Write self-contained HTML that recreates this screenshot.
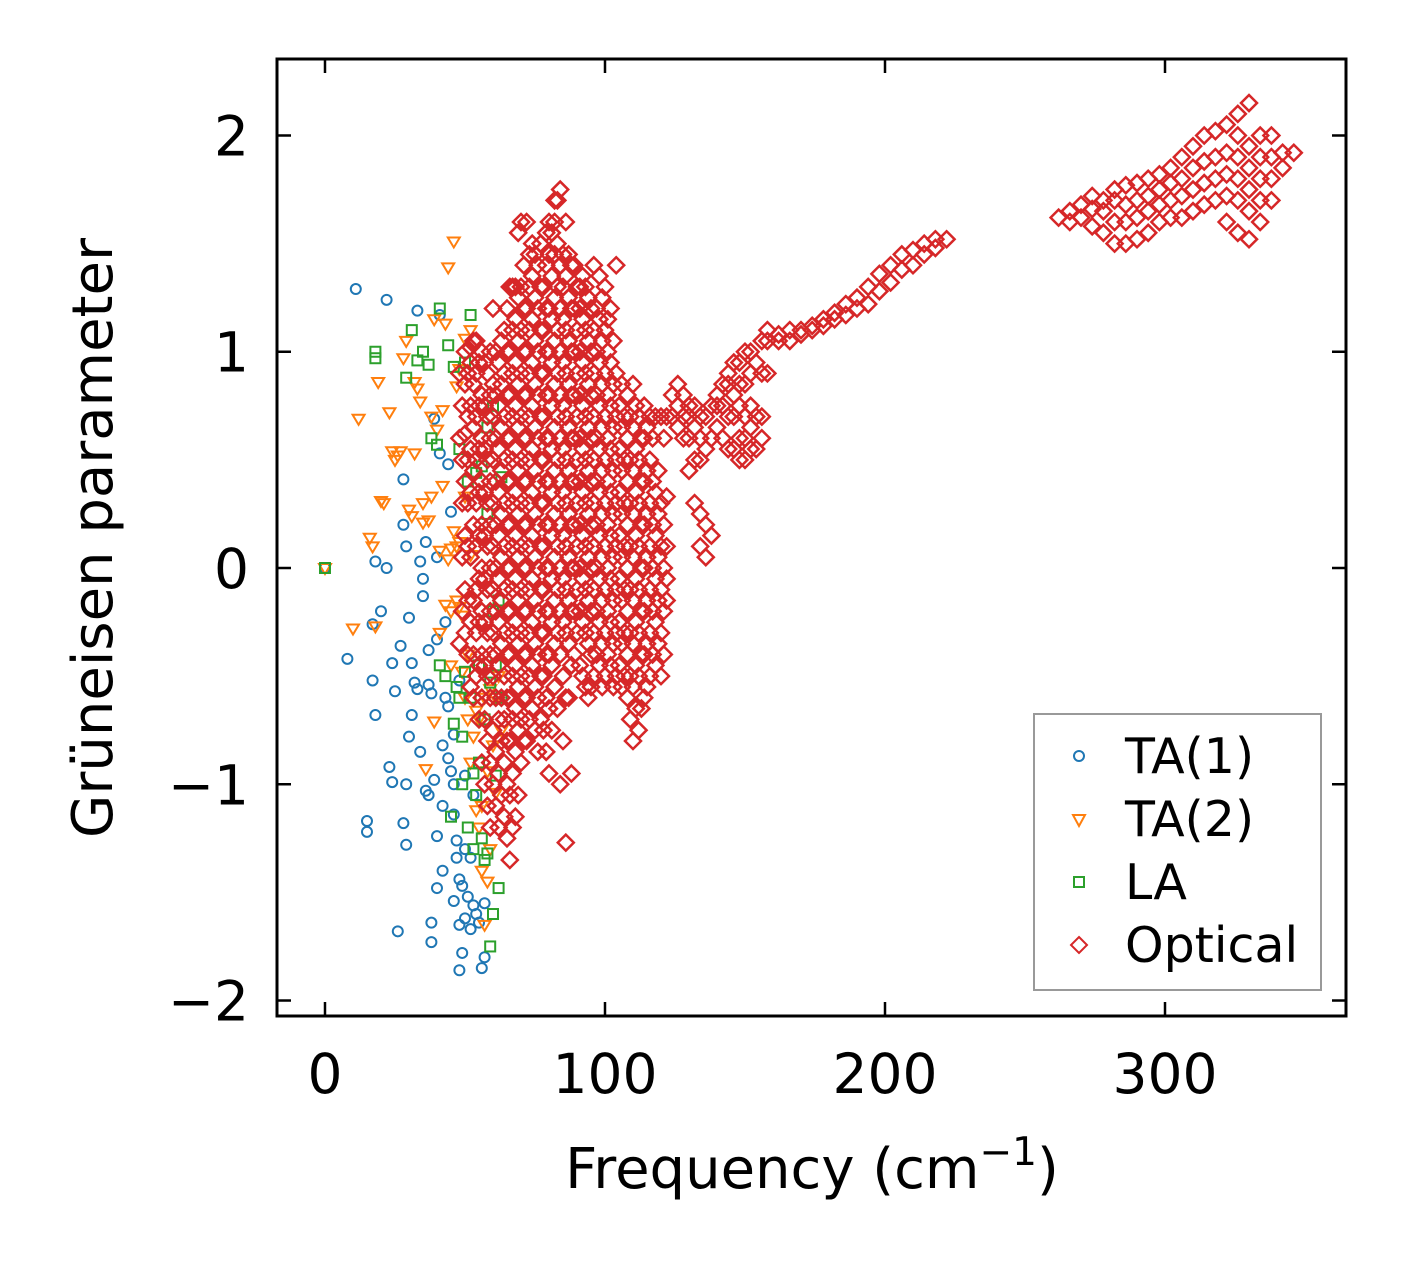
<!DOCTYPE html>
<html><head><meta charset="utf-8"><style>
html,body{margin:0;padding:0;background:#fff;}
svg{display:block;font-family:"DejaVu Sans","Liberation Sans",sans-serif;}
</style></head><body>
<svg id="chart" width="1406" height="1264" viewBox="0 0 1406 1264" xmlns="http://www.w3.org/2000/svg">
<rect width="1406" height="1264" fill="#fff"/>
<g id="marks"></g>
<g id="axes"></g>
<text x="812" y="1188" font-size="56" text-anchor="middle">Frequency (cm<tspan font-size="39" dy="-23">−1</tspan><tspan dy="23">)</tspan></text>
<text transform="translate(112,538) rotate(-90)" font-size="56" text-anchor="middle">Grüneisen parameter</text>
<g>
<rect x="1034" y="714" width="287" height="276" fill="#fff" stroke="#999" stroke-width="2"/>
<circle cx="1079" cy="756" r="5" fill="none" stroke="#1f77b4" stroke-width="2"/>
<text x="1125" y="773" font-size="49">TA(1)</text>
<polygon points="1073,815 1085,815 1079,826" fill="none" stroke="#ff7f0e" stroke-width="2"/>
<text x="1125" y="836" font-size="49">TA(2)</text>
<rect x="1074" y="877" width="10" height="10" fill="none" stroke="#2ca02c" stroke-width="2"/>
<text x="1125" y="899" font-size="49">LA</text>
<polygon points="1079,937 1087,945 1079,953 1071,945" fill="none" stroke="#d62728" stroke-width="2"/>
<text x="1125" y="962" font-size="49">Optical</text>
</g>
</svg>
<script>
const xTicks=[0,100,200,300];
const yTicks=[-2,-1,0,1,2];
const yTickLabels=["−2","−1","0","1","2"];
const ta1=[[0,0],[8,-0.42],[11,1.29],[15,-1.17],[15,-1.22],[17,-0.26],[17,-0.52],[18,0.03],[18,-0.68],[20,-0.2],[22,1.24],[22,0],[23,-0.92],[24,-0.99],[24,-0.44],[25,-0.57],[26,-1.68],[27,-0.36],[28,0.2],[28,0.41],[28,-1.18],[29,-1.28],[29,0.1],[29,-1.0],[30,-0.23],[30,-0.78],[31,-0.44],[31,-0.68],[32,-0.53],[33,-0.56],[33,1.19],[34,0.03],[34,-0.85],[35,-0.05],[35,-0.13],[36,-1.03],[36,0.12],[37,-0.38],[37,-0.54],[37,-1.05],[38,-1.64],[38,-1.73],[38,-0.58],[39,0.69],[39,-0.98],[40,-1.24],[40,-1.48],[40,0.05],[40,-0.33],[41,0.53],[41,1.17],[42,-1.1],[42,-1.4],[42,-0.82],[43,-0.6],[43,-0.25],[44,-0.64],[44,0.48],[45,0.26],[45,-0.94],[46,-1.14],[46,-0.77],[46,-1.54],[47,-1.26],[47,-1.34],[48,-1.86],[48,-1.65],[48,-1.44],[49,-1.47],[49,-1.78],[50,-1.62],[50,-1.3],[51,-1.52],[52,-1.67],[52,-1.34],[53,-1.56],[54,-1.6],[55,-1.64],[56,-1.85],[57,-1.8],[57,-1.55],[53,-1.05],[50,-0.96],[48,-0.52],[46,-1.0],[44,-0.88]];
const ta2=[[0,0],[10,-0.28],[12,0.69],[16,0.14],[17,0.1],[18,-0.27],[19,0.86],[20,0.31],[21,0.3],[23,0.72],[24,0.54],[25,0.5],[26,0.52],[27,0.54],[28,0.97],[29,1.05],[30,0.27],[31,0.24],[32,0.53],[32,0.86],[33,0.83],[34,0.77],[35,0.3],[35,0.21],[36,-0.93],[37,0.22],[38,0.33],[38,0.7],[39,1.15],[39,-0.71],[40,0.64],[41,0.08],[41,-0.3],[42,0.38],[42,0.73],[43,1.13],[43,-0.17],[44,1.39],[44,0.04],[45,0.09],[45,-0.45],[46,1.51],[46,0.17],[47,0.1],[47,-0.15],[47,0.84],[48,0.92],[48,0.12],[49,-0.22],[49,-0.48],[50,-0.6],[50,0.33],[51,-0.7],[51,-0.4],[52,-0.9],[52,0.06],[53,-0.78],[54,-0.66],[54,-1.12],[55,-1.2],[55,-0.7],[56,-1.4],[56,-1.1],[57,-1.65],[57,-0.6],[58,-1.45],[58,-0.94],[59,-1.3],[59,-0.56],[60,-0.82],[61,-0.6],[61,-1.04],[62,-0.5],[63,-0.75],[52,1.1],[50,1.06],[48,-0.18],[45,-0.2]];
const la=[[0,0],[18,1.0],[18,0.97],[29,0.88],[31,1.1],[33,0.96],[35,1.0],[37,0.94],[38,0.6],[40,0.57],[41,1.2],[41,-0.45],[43,-0.5],[44,1.03],[45,-1.15],[46,0.93],[46,-0.72],[47,-0.55],[48,0.55],[48,-0.6],[49,-1.0],[49,-0.78],[50,0.95],[50,-0.48],[51,0.4],[51,-1.2],[52,1.17],[52,-0.6],[53,-0.95],[53,-1.3],[54,0.44],[54,-1.05],[55,-0.45],[55,-0.9],[56,-1.25],[56,0.47],[57,-0.7],[57,-1.35],[58,0.65],[58,-1.32],[59,-1.75],[59,-0.53],[60,-1.6],[60,0.75],[61,-0.45],[61,-0.96],[62,-0.15],[62,-1.48],[63,0.42],[63,-0.6],[60,-0.2],[58,0.25]];
const optX=[48,50,52,54,56,58,60,62,64,66,68,70,72,74,76,78,80,82,84,86,88,90,92,94,96,98,100,102,104,106,108,110,112,114,116,118,120,122,124,126,128,130,132,134,136,138,140,142,144,146,148,150,152,154,156,158,162,166,170,174,178,182,186,190,194,198,202,206,210,214,218,222,262,266,270,274,278,282,286,290,294,298,302,306,310,314,318,322,326,330,334,338,342,346,
49,51,53,55,57,59,61,63,65,67,69,71,73,75,77,79,81,83,85,87,89,91,93,95,97,99,101,103,105,107,109,111,113,115,117,119,121];
const optY=[[-0.35,0.6,0.9],[-0.3,-0.1,0.15,0.4,0.62,0.85,1.0],[-0.55,-0.25,0.05,0.35,0.55,0.75,0.95,1.02],[-0.5,-0.3,-0.1,0.1,0.3,0.5,0.7,0.9,1.05],[-0.9,-0.6,-0.4,-0.2,0,0.2,0.4,0.6,0.8,1.0],[-1.1,-0.8,-0.5,-0.3,-0.1,0.1,0.3,0.5,0.7,0.9],[-1.0,-0.75,-0.5,-0.3,-0.1,0.1,0.3,0.5,0.7,0.85,1.2],[-1.2,-0.95,-0.7,-0.45,-0.25,-0.05,0.15,0.35,0.55,0.75,0.95],[-1.15,-0.9,-0.7,-0.5,-0.3,-0.1,0.1,0.3,0.5,0.7,0.9,1.1],[-1.35,-1.05,-0.8,-0.6,-0.4,-0.2,0,0.2,0.4,0.6,0.8,1.0,1.3],[-1.15,-0.85,-0.65,-0.45,-0.25,-0.05,0.15,0.35,0.55,0.75,0.95,1.15,1.3],[-0.9,-0.7,-0.5,-0.3,-0.1,0.1,0.3,0.5,0.7,0.9,1.1,1.3,1.6],[-0.8,-0.6,-0.4,-0.2,0,0.2,0.4,0.6,0.8,1.0,1.2,1.6],[-0.65,-0.45,-0.25,-0.05,0.15,0.35,0.55,0.75,0.95,1.15,1.35,1.5],[-0.85,-0.6,-0.4,-0.2,0,0.2,0.4,0.6,0.8,1.0,1.2,1.4],[-0.75,-0.5,-0.3,-0.1,0.1,0.3,0.5,0.7,0.9,1.1,1.3],[-0.95,-0.65,-0.4,-0.2,0,0.2,0.4,0.6,0.8,1.0,1.2,1.45,1.6],[-0.55,-0.35,-0.15,0.05,0.25,0.45,0.65,0.85,1.05,1.25,1.45,1.6,1.7],[-1.0,-0.4,-0.2,0,0.2,0.4,0.6,0.8,1.0,1.2,1.4,1.75],[-1.27,-0.6,-0.3,-0.1,0.1,0.3,0.5,0.7,0.9,1.1,1.35,1.6],[-0.95,-0.45,-0.2,0,0.2,0.4,0.6,0.8,1.0,1.2,1.4],[-0.3,-0.1,0.1,0.3,0.5,0.7,0.9,1.1,1.3],[-0.5,-0.25,-0.05,0.15,0.35,0.55,0.75,0.95,1.15,1.35],[-0.6,-0.35,-0.15,0.05,0.25,0.45,0.65,0.85,1.05,1.25],[-0.5,-0.3,-0.1,0.1,0.3,0.5,0.7,0.9,1.1,1.4],[-0.45,-0.25,-0.05,0.15,0.35,0.55,0.75,0.95,1.15,1.35],[-0.5,-0.3,-0.1,0.1,0.3,0.5,0.7,0.9,1.1,1.3],[-0.45,-0.25,-0.05,0.15,0.35,0.55,0.75,0.95,1.2],[-0.5,-0.3,-0.1,0.1,0.3,0.5,0.7,0.9,1.4],[-0.55,-0.35,-0.15,0.05,0.25,0.45,0.65,0.85],[-0.6,-0.4,-0.2,0,0.2,0.4,0.6,0.8],[-0.8,-0.55,-0.35,-0.15,0.05,0.25,0.45,0.65,0.85],[-0.75,-0.5,-0.3,-0.1,0.1,0.3,0.5,0.7],[-0.6,-0.4,-0.2,0,0.2,0.4,0.6,0.75],[-0.5,-0.3,-0.1,0.1,0.3,0.5,0.7],[-0.45,-0.25,-0.05,0.15,0.35,0.7],[-0.5,-0.3,-0.1,0.1,0.3,0.7],[-0.15,-0.05,0.1,0.33,0.7],[0.7,0.8],[0.65,0.75,0.85],[0.6,0.7,0.8],[0.45,0.6,0.7,0.75],[0.3,0.5,0.65,0.75],[0.1,0.25,0.5,0.6,0.7],[0.05,0.2,0.55,0.7],[0.15,0.6,0.75],[0.65,0.75,0.8],[0.6,0.75,0.85],[0.55,0.7,0.85,0.9],[0.55,0.7,0.8,0.95],[0.5,0.6,0.75,0.85,0.95],[0.5,0.6,0.7,0.85,1.0],[0.55,0.65,0.75,0.9,1.0],[0.55,0.7,0.95],[0.6,0.7,0.9,1.05],[0.9,1.05,1.1],[1.05,1.08],[1.05,1.1],[1.08,1.1],[1.1,1.12],[1.12,1.15],[1.15,1.18],[1.17,1.22],[1.2,1.25],[1.22,1.3],[1.28,1.36],[1.32,1.4],[1.38,1.45],[1.4,1.47],[1.45,1.5],[1.48,1.52],[1.52],[1.62],[1.6,1.65],[1.62,1.68],[1.58,1.66,1.72],[1.55,1.65,1.7],[1.5,1.6,1.7,1.75],[1.5,1.6,1.68,1.77],[1.52,1.62,1.7,1.78],[1.55,1.65,1.72,1.8],[1.6,1.68,1.75,1.82],[1.62,1.7,1.78,1.85],[1.62,1.72,1.8,1.9],[1.65,1.75,1.85,1.95],[1.68,1.78,1.88,2.0],[1.7,1.8,1.9,2.02],[1.6,1.72,1.82,1.92,2.05],[1.55,1.7,1.8,1.9,2.0,2.1],[1.52,1.65,1.75,1.85,1.95,2.15],[1.6,1.7,1.8,1.9,2.0],[1.7,1.8,1.9,2.0],[1.85,1.92],[1.92],
[-0.2,0.05,0.3,0.5,0.75],[-0.4,-0.15,0.1,0.3,0.5,0.7,0.9],[-0.6,-0.4,-0.15,0.2,0.45,0.65,0.85,1.05],[-0.7,-0.45,-0.25,-0.05,0.15,0.35,0.55,0.75,0.95],[-1.0,-0.7,-0.45,-0.25,-0.05,0.15,0.35,0.55,0.75,0.95],[-1.2,-0.9,-0.6,-0.4,-0.2,0,0.2,0.4,0.6,0.8,1.0],[-1.1,-0.85,-0.6,-0.4,-0.2,0,0.2,0.4,0.6,0.8,1.0],[-1.05,-0.8,-0.6,-0.35,-0.15,0.05,0.25,0.45,0.65,0.85,1.05],[-1.25,-1.0,-0.8,-0.6,-0.4,-0.2,0,0.2,0.4,0.6,0.8,1.0,1.2],[-1.2,-0.95,-0.7,-0.5,-0.3,-0.1,0.1,0.3,0.5,0.7,0.9,1.1,1.3],[-1.05,-0.75,-0.55,-0.35,-0.15,0.05,0.25,0.45,0.65,0.85,1.05,1.25,1.55],[-0.8,-0.6,-0.4,-0.2,0,0.2,0.4,0.6,0.8,1.0,1.2,1.4],[-0.7,-0.5,-0.3,-0.1,0.1,0.3,0.5,0.7,0.9,1.1,1.3,1.45],[-0.75,-0.55,-0.35,-0.15,0.05,0.25,0.45,0.65,0.85,1.05,1.25,1.45],[-0.7,-0.5,-0.3,-0.1,0.1,0.3,0.5,0.7,0.9,1.1,1.3,1.5],[-0.85,-0.6,-0.4,-0.2,0,0.2,0.4,0.6,0.8,1.0,1.2,1.4,1.55],[-0.75,-0.45,-0.25,-0.05,0.15,0.35,0.55,0.75,0.95,1.15,1.35,1.55],[-0.65,-0.3,-0.1,0.1,0.3,0.5,0.7,0.9,1.1,1.3,1.5,1.7],[-0.8,-0.5,-0.25,-0.05,0.15,0.35,0.55,0.75,0.95,1.15,1.3,1.45],[-0.6,-0.35,-0.15,0.05,0.25,0.45,0.65,0.85,1.05,1.25,1.45],[-0.4,-0.2,0,0.2,0.4,0.6,0.8,1.0,1.2,1.4],[-0.45,-0.2,0,0.2,0.4,0.6,0.8,1.0,1.2,1.3],[-0.55,-0.3,-0.1,0.1,0.3,0.5,0.7,0.9,1.1,1.3],[-0.55,-0.4,-0.2,0,0.2,0.4,0.6,0.8,1.0,1.2],[-0.4,-0.2,0,0.2,0.4,0.6,0.8,1.0,1.2],[-0.55,-0.35,-0.15,0.05,0.25,0.45,0.65,0.85,1.05,1.25],[-0.4,-0.2,0,0.2,0.4,0.6,0.8,1.0,1.15],[-0.55,-0.35,-0.15,0.05,0.25,0.45,0.65,0.85,1.05],[-0.45,-0.25,-0.05,0.15,0.35,0.55,0.75],[-0.5,-0.3,-0.1,0.1,0.3,0.5,0.7],[-0.7,-0.5,-0.3,-0.1,0.1,0.3,0.5,0.7],[-0.65,-0.45,-0.25,-0.05,0.15,0.35,0.55,0.75],[-0.65,-0.4,-0.2,0,0.2,0.4,0.6],[-0.55,-0.35,-0.15,0.05,0.25,0.45,0.65],[-0.4,-0.2,0,0.2,0.4,0.6],[-0.35,-0.15,0.05,0.25,0.45],[-0.4,-0.2,0,0.2,0.6]];

const L=277,R=1346,T=59,B=1016;
const xMin=-17.14,xMax=364.64,yMin=-2.0716,yMax=2.3537;
const sx=v=>L+(v-xMin)/(xMax-xMin)*(R-L);
const sy=v=>B-(v-yMin)/(yMax-yMin)*(B-T);
const NS="http://www.w3.org/2000/svg";
const marks=document.getElementById('marks');
const axes=document.getElementById('axes');
function mk(tag,attrs,parent){const e=document.createElementNS(NS,tag);for(const k in attrs)e.setAttribute(k,attrs[k]);parent.appendChild(e);return e;}

ta1.forEach(p=>{const e=mk('circle',{cx:sx(p[0]),cy:sy(p[1]),r:5,fill:'none',stroke:'#1f77b4','stroke-width':2},marks);

});
ta2.forEach(p=>{const x=sx(p[0]),y=sy(p[1]);const e=mk('polygon',{points:`${x-6},${y-4} ${x+6},${y-4} ${x},${y+6}`,fill:'none',stroke:'#ff7f0e','stroke-width':2},marks);

});
la.forEach(p=>{const e=mk('rect',{x:sx(p[0])-5,y:sy(p[1])-5,width:10,height:10,fill:'none',stroke:'#2ca02c','stroke-width':2},marks);

});
optX.forEach((xv,i)=>{optY[i].forEach(yv=>{const x=sx(xv),y=sy(yv);
const e=mk('polygon',{points:`${x},${y-8} ${x+8},${y} ${x},${y+8} ${x-8},${y}`,fill:'none',stroke:'#d62728','stroke-width':2.5},marks);

});});

const frame=mk('rect',{x:L,y:T,width:R-L,height:B-T,fill:'none',stroke:'#000','stroke-width':3},axes);


xTicks.forEach(v=>{const x=sx(v);
mk('line',{x1:x,y1:B,x2:x,y2:B-14,stroke:'#000','stroke-width':2.5},axes);
mk('line',{x1:x,y1:T,x2:x,y2:T+14,stroke:'#000','stroke-width':2.5},axes);
const t=mk('text',{x:x,y:B+77,'font-size':55,'text-anchor':'middle'},axes);t.textContent=v;

});
yTicks.forEach((v,i)=>{const y=sy(v);
mk('line',{x1:L,y1:y,x2:L+14,y2:y,stroke:'#000','stroke-width':2.5},axes);
mk('line',{x1:R,y1:y,x2:R-14,y2:y,stroke:'#000','stroke-width':2.5},axes);
const t=mk('text',{x:L-28,y:y+20,'font-size':55,'text-anchor':'end'},axes);t.textContent=yTickLabels[i];

});
</script>
</body></html>
